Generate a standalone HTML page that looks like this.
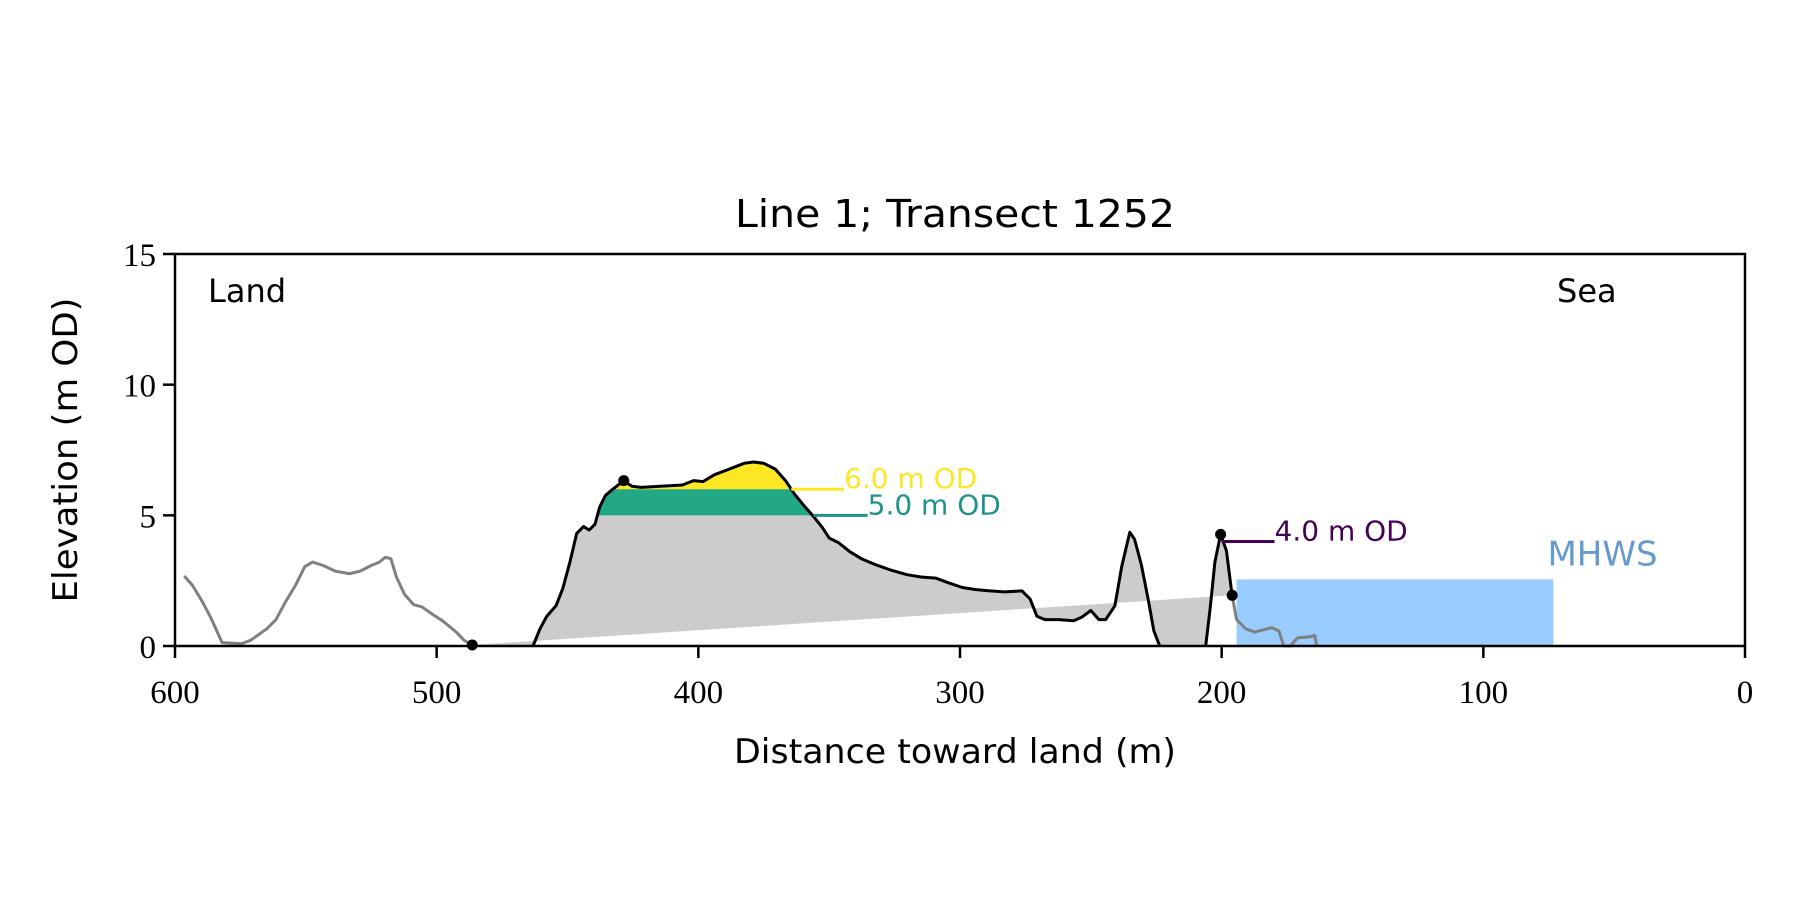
<!DOCTYPE html>
<html><head><meta charset="utf-8"><style>
html,body{margin:0;padding:0;background:#fff;}
svg{display:block;}
.tick{font-family:"Liberation Serif",serif;font-size:33px;fill:#000;}
.sans{font-family:"DejaVu Sans","Liberation Sans",sans-serif;}
</style></head><body>
<svg id="chart" width="1800" height="900" viewBox="0 0 1800 900" xmlns="http://www.w3.org/2000/svg">
<defs>
<clipPath id="dune-clip"><polygon id="dune-clip-poly"/></clipPath>
</defs>
<g id="plot"></g>
</svg>
<script>
// ---- data ----
const landX = [596.5,593.4,589.9,586.4,582.0,574.6,571.1,564.9,561.4,557.9,553.9,550.4,547.4,543.4,538.6,533.3,529.4,525.0,521.9,519.7,517.5,515.4,512.3,508.8,505.7,501.3,497.8,492.5,489.5,486.4];
const landY = [2.68,2.33,1.76,1.10,0.13,0.09,0.22,0.66,1.01,1.67,2.33,3.04,3.21,3.08,2.86,2.77,2.86,3.08,3.21,3.39,3.34,2.64,1.98,1.58,1.50,1.19,0.97,0.53,0.22,0.04];
const duneX = [463.2,460.5,457.9,454.4,451.8,449.1,446.5,443.9,441.7,439.5,437.7,435.5,432.9,428.5,425.4,421.9,414.5,406.1,401.8,398.2,393.9,388.2,382.5,378.9,375.0,370.6,366.7,363.2,359.6,356.1,352.6,350.0,346.5,342.1,337.7,332.5,326.3,320.2,314.9,309.2,304.4,299.1,293.9,288.6,282.9,276.3,273.2,270.6,267.5,262.3,256.6,253.5,250.0,246.9,244.3,240.8,238.2,235.1,233.3,230.7,228.1,225.9,223.7];
const duneY = [0,0.66,1.14,1.54,2.20,3.21,4.31,4.57,4.44,4.66,5.32,5.76,5.98,6.33,6.11,6.07,6.11,6.16,6.33,6.29,6.55,6.77,6.99,7.04,6.99,6.77,6.33,5.81,5.37,4.97,4.53,4.13,3.96,3.61,3.34,3.12,2.90,2.73,2.64,2.60,2.42,2.24,2.16,2.11,2.07,2.11,1.80,1.14,1.01,1.01,0.97,1.10,1.36,1.01,1.01,1.54,3.04,4.35,4.09,3.12,1.80,0.57,0];
const frontX = [206.1,204.4,202.6,200.4,198.2,196.0];
const frontY = [0,1.45,3.21,4.27,3.65,1.94];
const seaX = [196.0,194.3,190.8,187.3,184.2,180.7,178.1,176.3,173.7,171.1,166.7,164.5,163.6];
const seaY = [1.94,1.01,0.66,0.53,0.62,0.70,0.57,0,0,0.31,0.35,0.40,0];
const dotsX = [486.4,428.5,200.4,196.0];
const dotsY = [0.04,6.33,4.27,1.94];
const levels = [6.0,5.0,4.0];
const levelStart = [364.5,356.0,200.0];
const levelEnd = [344.3,335.3,179.8];
const levelLabels = ["6.0 m OD","5.0 m OD","4.0 m OD"];
const levelColors = ["#fde725","#21918c","#440154"];
const mhwsX = [194.3,73.2];
const mhwsLevel = 2.55;
const xTicks = [600,500,400,300,200,100,0];
const yTicks = [0,5,10,15];

// ---- axes ----
const L=175,R=1745,T=254,B=646;
const sx = v => L + (600 - v) / 600 * (R - L);
const sy = v => B - v / 15 * (B - T);
const NS="http://www.w3.org/2000/svg";
const g=document.getElementById('plot');
function mk(tag, attrs, parent){const e=document.createElementNS(NS,tag);for(const k in attrs)e.setAttribute(k,attrs[k]);(parent||g).appendChild(e);return e;}
const pts=(xs,ys)=>xs.map((x,i)=>sx(x).toFixed(1)+','+sy(ys[i]).toFixed(1)).join(' ');

// gray fill between profile and baseline (from first to last dot)
const fillX=[dotsX[0]].concat(duneX, frontX);
const fillY=[0].concat(duneY, frontY);
const b0x=dotsX[0], b0y=dotsY[0], b1x=dotsX[3], b1y=dotsY[3];
let poly=pts(fillX,fillY)+' '+sx(b1x).toFixed(1)+','+sy(b1y).toFixed(1)+' '+sx(b0x).toFixed(1)+','+sy(b0y).toFixed(1);
let gf=mk('polygon',{points:poly,fill:'#cccccc',stroke:'none'});



// clip for dune level fills
document.getElementById('dune-clip-poly').setAttribute('points', pts(duneX,duneY)+' '+sx(duneX[duneX.length-1])+','+sy(0)+' '+sx(duneX[0])+','+sy(0));
let tf=mk('rect',{x:sx(470),y:sy(levels[0]),width:sx(300)-sx(470),height:sy(levels[1])-sy(levels[0]),fill:'#22a884','clip-path':'url(#clip-dune)'});
tf.setAttribute('clip-path','url(#dune-clip)');


let yf=mk('rect',{x:sx(470),y:sy(9),width:sx(300)-sx(470),height:sy(levels[0])-sy(9),fill:'#fde725'});
yf.setAttribute('clip-path','url(#dune-clip)');



// MHWS
let mr=mk('rect',{x:sx(mhwsX[0]),y:sy(mhwsLevel),width:sx(mhwsX[1])-sx(mhwsX[0]),height:sy(0)-sy(mhwsLevel),fill:'#99ccff'});


let mt=mk('text',{x:sx(mhwsX[1])-6,y:sy(mhwsLevel)-14,'font-size':'34',fill:'#6699cc',class:'sans'});
mt.textContent='MHWS';



// profiles
let lp=mk('polyline',{points:pts(landX,landY),fill:'none',stroke:'#808080','stroke-width':3,'stroke-linejoin':'round'});


let dp=mk('polyline',{points:pts(duneX,duneY),fill:'none',stroke:'#000','stroke-width':3,'stroke-linejoin':'round'});


let fp=mk('polyline',{points:pts(frontX,frontY),fill:'none',stroke:'#000','stroke-width':3,'stroke-linejoin':'round'});


let sp=mk('polyline',{points:pts(seaX,seaY),fill:'none',stroke:'#808080','stroke-width':3,'stroke-linejoin':'round'});



// level lines
levels.forEach((lv,i)=>{
  let ln=mk('line',{x1:sx(levelStart[i]),x2:sx(levelEnd[i]),y1:sy(lv),y2:sy(lv),stroke:levelColors[i],'stroke-width':3});
  
  
  let tx=mk('text',{x:sx(levelEnd[i]),y:sy(lv)-1,'font-size':'28',fill:levelColors[i],class:'sans'});
  tx.textContent=levelLabels[i];
  
  
});

// dots
dotsX.forEach((x,i)=>{
  let c=mk('circle',{cx:sx(x),cy:sy(dotsY[i]),r:5.5,fill:'#000'});
  
  
});

// axes frame
let fr=mk('rect',{x:L,y:T,width:R-L,height:B-T,fill:'none',stroke:'#000','stroke-width':2.5});


xTicks.forEach(v=>{
  let t=mk('line',{x1:sx(v),x2:sx(v),y1:B,y2:B+12,stroke:'#000','stroke-width':2.5});
  
  
  let l=mk('text',{x:sx(v),y:B+57,'text-anchor':'middle',class:'tick'});
  l.textContent=v;
  
  
});
yTicks.forEach(v=>{
  let t=mk('line',{x1:L-12,x2:L,y1:sy(v),y2:sy(v),stroke:'#000','stroke-width':2.5});
  
  
  let l=mk('text',{x:L-19,y:sy(v)+12,'text-anchor':'end',class:'tick'});
  l.textContent=v;
  
  
});
</script>
<svg width="0" height="0" style="position:absolute"></svg>
<script>
const NS2="http://www.w3.org/2000/svg";
const svg=document.getElementById('chart');
function txt(str,attrs,name){const e=document.createElementNS(NS2,'text');for(const k in attrs)e.setAttribute(k,attrs[k]);e.textContent=str;


svg.appendChild(e);}
txt('Line 1; Transect 1252',{x:955,y:227,'text-anchor':'middle','font-size':'38',class:'sans',textLength:440,lengthAdjust:'spacingAndGlyphs'},'chart-title');
txt('Distance toward land (m)',{x:955,y:763,'text-anchor':'middle','font-size':'34',class:'sans',textLength:442,lengthAdjust:'spacingAndGlyphs'},'x-axis-title');
txt('Elevation (m OD)',{x:0,y:0,'text-anchor':'middle','font-size':'34',class:'sans',textLength:305,lengthAdjust:'spacingAndGlyphs',transform:'translate(77,450) rotate(-90)'},'y-axis-title');
txt('Land',{x:208,y:302,'font-size':'32',class:'sans'},'land-label');
txt('Sea',{x:1557,y:302,'font-size':'32',class:'sans'},'sea-label');
</script>
</body></html>
